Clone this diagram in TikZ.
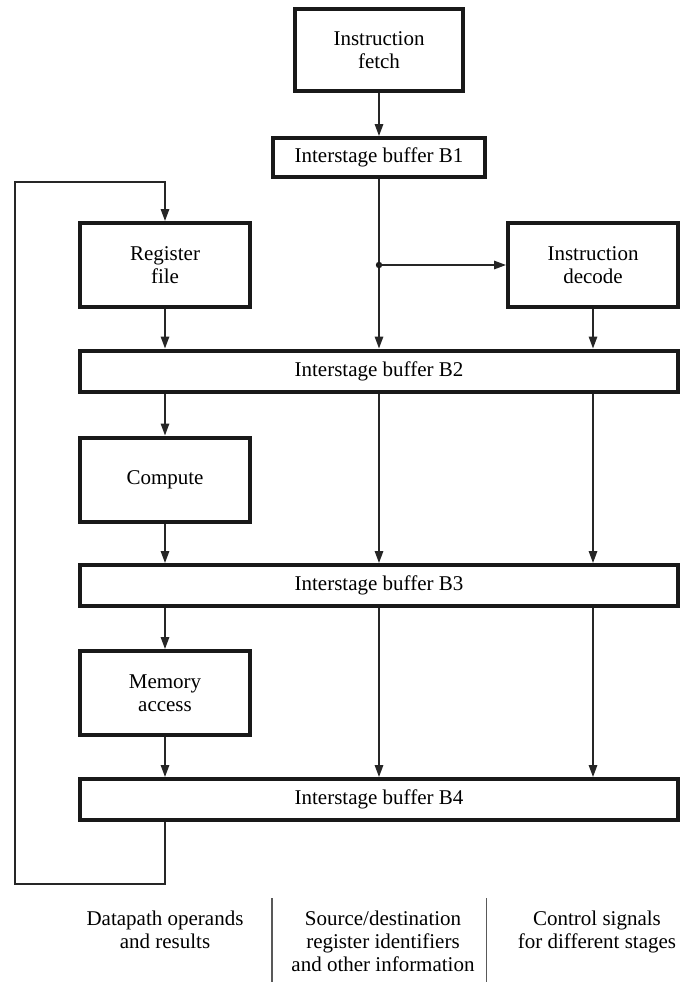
\documentclass[tikz,border=0pt]{standalone}
\usepackage{fontspec}
\setmainfont{Liberation Serif}
\usetikzlibrary{arrows.meta}
\begin{document}
\begin{tikzpicture}[x=1pt,y=-1pt,
  font=\fontsize{21}{23}\selectfont,
  stagebox/.style={draw=black!90, line width=4pt, inner sep=0pt, align=center, minimum width=170pt, minimum height=84pt},
  bufbox/.style={draw=black!90, line width=4pt, inner sep=0pt, minimum height=41pt, minimum width=598pt},
  conn/.style={draw=black!85, line width=1.5pt, -{Triangle[length=12pt,width=8.5pt]}},
  sepline/.style={draw=black!65, line width=1.5pt},
  caption/.style={anchor=north, align=center, inner sep=0pt}]
\useasboundingbox (0,0) rectangle (686,986);
% nodes
\node[stagebox, minimum width=168pt, minimum height=82pt] (fetch) at (379,50) {Instruction\\fetch};
\node[bufbox, minimum width=212pt, minimum height=39pt] (b1) at (379,157.5) {Interstage buffer B1};
\node[stagebox] (reg) at (165,265) {Register\\file};
\node[stagebox] (dec) at (593,265) {Instruction\\decode};
\node[bufbox] (b2) at (379,371) {Interstage buffer B2};
\node[stagebox] (comp) at (165,479.5) {Compute};
\node[bufbox] (b3) at (379,585.5) {Interstage buffer B3};
\node[stagebox] (mem) at (165,693) {Memory\\access};
\node[bufbox] (b4) at (379,799.5) {Interstage buffer B4};
% top
\draw[conn] (fetch.south) -- (b1.north);
% left column
\draw[conn] (reg.south) -- (reg.south |- b2.north);
\draw[conn] (b2.south -| comp.north) -- (comp.north);
\draw[conn] (comp.south) -- (comp.south |- b3.north);
\draw[conn] (b3.south -| mem.north) -- (mem.north);
\draw[conn] (mem.south) -- (mem.south |- b4.north);
% middle column
\coordinate (j) at (b1.south |- dec.west);
\draw[conn] (b1.south) -- (b2.north);
\draw[conn] (b2.south) -- (b3.north);
\draw[conn] (b3.south) -- (b4.north);
\fill[black!90] (j) circle (3.2pt);
\draw[conn] (j) -- (dec.west);
% right column
\draw[conn] (dec.south) -- (dec.south |- b2.north);
\draw[conn] (b2.south -| dec.south) -- (b3.north -| dec.south);
\draw[conn] (b3.south -| dec.south) -- (b4.north -| dec.south);
% feedback loop
\coordinate (lb) at (15,884);
\coordinate (lt) at (15,182);
\draw[conn] (b4.south -| mem.south) -- (lb -| mem.south) -- (lb) -- (lt) -- (lt -| reg.north) -- (reg.north);
% separators
\coordinate (s1t) at (272,898);
\coordinate (s1b) at (272,982);
\coordinate (s2t) at (486.5,898);
\coordinate (s2b) at (486.5,982);
\draw[sepline] (s1t) -- (s1b);
\draw[sepline] (s2t) -- (s2b);
% captions
\node[caption] (t1) at (165,911) {Datapath operands\\and results};
\node[caption] (t2) at (383,911) {Source/destination\\register identifiers\\and other information};
\node[caption] (t3) at (597,911) {Control signals\\for different stages};
\end{tikzpicture}
\end{document}
